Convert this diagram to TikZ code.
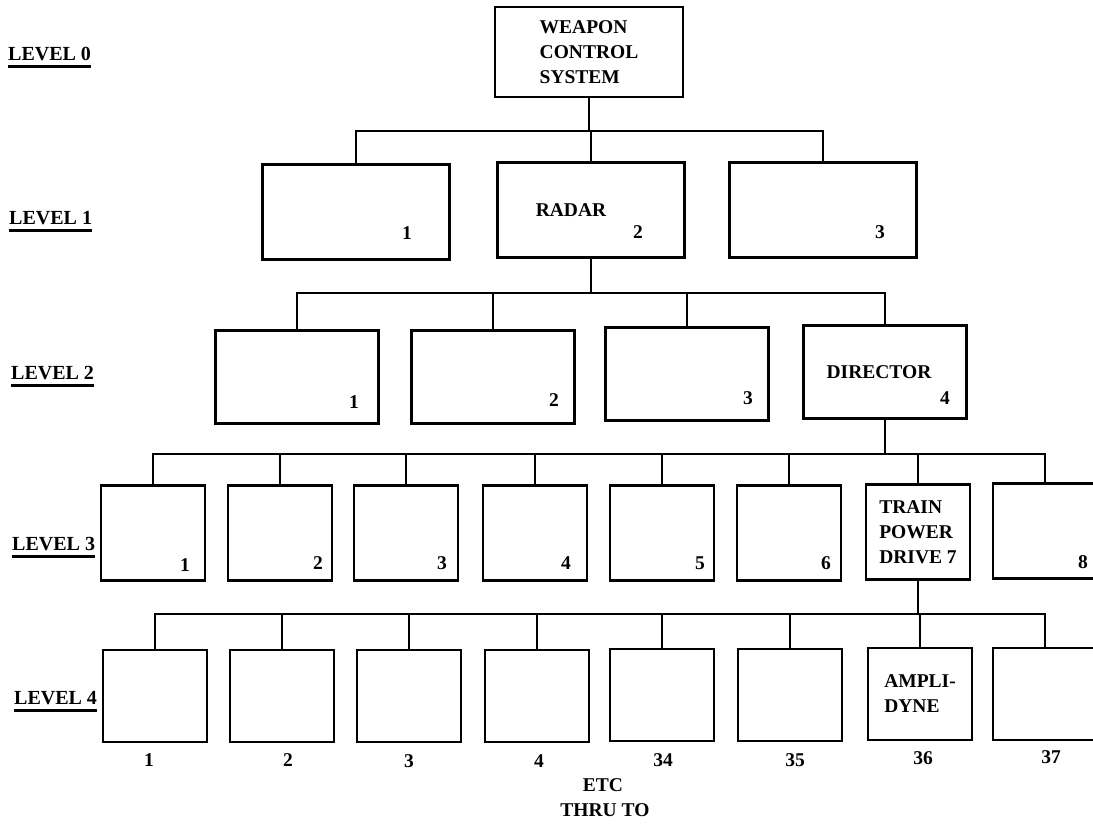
\documentclass[tikz,border=0pt]{standalone}
\usepackage{fontspec}
\setmainfont{Liberation Serif}
\usepackage{tikz}

\newcommand{\lvlbar}[1]{\leavevmode\vtop{\hbox{#1}\kern5pt\hrule height 2.4pt}}

\tikzset{
  unit/.style={draw, line width=2.8pt, inner sep=0pt, align=left},
  top/.style={unit, minimum width=188pt, minimum height=90pt},
  wide/.style={unit, minimum width=187pt, minimum height=95pt},
  mid/.style={unit, minimum width=163pt, minimum height=93pt},
  small/.style={unit, minimum width=104pt, minimum height=95pt},
  leaf/.style={unit, minimum width=104pt, minimum height=92pt},
  tag/.style={inner sep=0pt},
  lvl/.style={inner sep=0pt, anchor=base west, font=\fontsize{20}{25}\selectfont\bfseries},
  link/.style={line width=2.8pt}
}

\begin{document}
\begin{tikzpicture}[x=1pt, y=-1pt, every node/.style={font=\fontsize{19.5}{25}\selectfont\bfseries}]
    \useasboundingbox (0,0) rectangle (1093,825);
    \clip (0,0) rectangle (1093,825);

    % level names
    \node[lvl] (l0) at (8,60) {\lvlbar{LEVEL 0}};
    \node[lvl] (l1) at (9,224) {\lvlbar{LEVEL 1}};
    \node[lvl] (l2) at (11,379) {\lvlbar{LEVEL 2}};
    \node[lvl] (l3) at (12,550) {\lvlbar{LEVEL 3}};
    \node[lvl] (l4) at (14,704) {\lvlbar{LEVEL 4}};

    % level 0
    \node[top] (wcs) at (589,52) {WEAPON\\CONTROL\\SYSTEM};

    % level 1
    \node[wide] (u1) at (356,212) {};
    \node[wide] (radar) at (591,210) {RADAR\hspace*{40pt}\mbox{}};
    \node[wide] (u3) at (823,210) {};
    \node[tag] (n11) at (407,233) {1};
    \node[tag] (n12) at (638,232) {2};
    \node[tag] (n13) at (880,232) {3};

    % level 2
    \node[mid] (v1) at (297,377) {};
    \node[mid] (v2) at (493,377) {};
    \node[mid] (v3) at (687,374) {};
    \node[mid] (dir) at (885,372) {DIRECTOR\hspace*{12pt}\mbox{}};
    \node[tag] (n21) at (354,402) {1};
    \node[tag] (n22) at (554,400) {2};
    \node[tag] (n23) at (748,398) {3};
    \node[tag] (n24) at (945,398) {4};

    % level 3
    \node[small] (w1) at (153,533) {};
    \node[small] (w2) at (280,533) {};
    \node[small] (w3) at (406,533) {};
    \node[small] (w4) at (535,533) {};
    \node[small] (w5) at (662,533) {};
    \node[small] (w6) at (789,533) {};
    \node[small] (tpd) at (918,532) {TRAIN\\POWER\\DRIVE 7};
    \node[small] (w8) at (1045,531) {};
    \node[tag] (n31) at (185,565) {1};
    \node[tag] (n32) at (318,563) {2};
    \node[tag] (n33) at (442,563) {3};
    \node[tag] (n34) at (566,563) {4};
    \node[tag] (n35) at (700,563) {5};
    \node[tag] (n36) at (826,563) {6};
    \node[tag] (n38) at (1083,562) {8};

    % level 4
    \node[leaf] (x1) at (155,696) {};
    \node[leaf] (x2) at (282,696) {};
    \node[leaf] (x3) at (409,696) {};
    \node[leaf] (x4) at (537,696) {};
    \node[leaf] (x34) at (662,695) {};
    \node[leaf] (x35) at (790,695) {};
    \node[leaf] (amp) at (920,694) {AMPLI-\\DYNE};
    \node[leaf] (x37) at (1045,694) {};
    \node[tag] (m1) at (149,760) {1};
    \node[tag] (m2) at (288,760) {2};
    \node[tag] (m3) at (409,761) {3};
    \node[tag] (m4) at (539,761) {4};
    \node[tag] (m34) at (663,760) {34};
    \node[tag] (m35) at (795,760) {35};
    \node[tag] (m36) at (923,758) {36};
    \node[tag] (m37) at (1051,757) {37};
    \node[tag] (etc) at (603,785) {ETC};
    \node[tag] (thru) at (605,810) {THRU TO};

    % buses
    \coordinate (bus1) at (0,131);
    \coordinate (bus2) at (0,293);
    \coordinate (bus3) at (0,454);
    \coordinate (bus4) at (0,614);

    \draw[link] (wcs.south) -- (wcs.south |- bus1) -| (u1.north)
      (wcs.south |- bus1) -| (radar.north)
      (wcs.south |- bus1) -| (u3.north);
    \draw[link] (radar.south) -- (radar.south |- bus2) -| (v1.north)
      (radar.south |- bus2) -| (v2.north)
      (radar.south |- bus2) -| (v3.north)
      (radar.south |- bus2) -| (dir.north);
    \draw[link] (dir.south) -- (dir.south |- bus3) -| (w1.north)
      (dir.south |- bus3) -| (w2.north)
      (dir.south |- bus3) -| (w3.north)
      (dir.south |- bus3) -| (w4.north)
      (dir.south |- bus3) -| (w5.north)
      (dir.south |- bus3) -| (w6.north)
      (dir.south |- bus3) -| (tpd.north)
      (dir.south |- bus3) -| (w8.north);
    \draw[link] (tpd.south) -- (tpd.south |- bus4) -| (x1.north)
      (tpd.south |- bus4) -| (x2.north)
      (tpd.south |- bus4) -| (x3.north)
      (tpd.south |- bus4) -| (x4.north)
      (tpd.south |- bus4) -| (x34.north)
      (tpd.south |- bus4) -| (x35.north)
      (tpd.south |- bus4) -| (amp.north)
      (tpd.south |- bus4) -| (x37.north);
  \end{tikzpicture}
\end{document}
